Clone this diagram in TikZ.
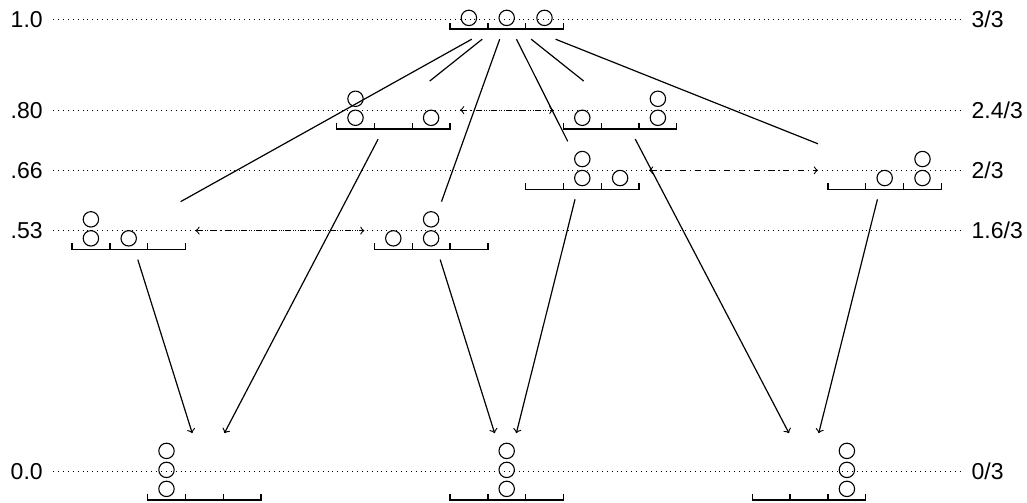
\documentclass[tikz,border=0pt]{standalone}
\usepackage{fontspec}
\setmainfont{Liberation Sans}

% one urn: name, position, balls in bin 1, 2, 3
\newcommand{\urn}[5]{%
  \pgfmathtruncatemacro{\urnrows}{max(#3,#4,#5)}%
  \pgfmathsetmacro{\urndrop}{-4.75*\urnrows}%
  \node[urn,minimum height=\urnrows*9.5pt] (#1) at (#2) {};
  \begin{scope}[shift={(#1.center)},yshift=\urndrop pt,x=18.9pt,y=9.5pt]
    \draw[bin] (-1.5,0.33) -- (-1.5,0) -- (1.5,0) -- (1.5,0.33)
      (-0.5,0) -- (-0.5,0.33) (0.5,0) -- (0.5,0.33);
    \foreach \col/\cnt in {-1/#3,0/#4,1/#5}
      \foreach \row in {1,2,3}
        {\ifnum\row>\cnt\relax\else\draw[ball] (\col,\row-0.405) circle (3.85pt);\fi}
  \end{scope}
}

\begin{document}
\begin{tikzpicture}
[x=18.9pt,y=226pt,%
  urn/.style={rectangle,inner sep=0pt,outer sep=5pt,minimum width=56.7pt},%
  bin/.style={line width=0.7pt},%
  ball/.style={line width=0.55pt},%
  edge/.style={line width=0.6pt},%
  level/.style={dotted,line width=0.45pt},%
  exch/.style={<->,dashdotted,line width=0.55pt},%
  value/.style={inner sep=5pt,font=\fontsize{11.5}{13}\selectfont}]
\useasboundingbox (-13.405,-0.0692) rectangle (13.765,1.0436);

% levels
\foreach \val/\lft/\rgt [count=\n] in {1/1.0/{3/3},.8/.80/{2.4/3},.6667/.66/{2/3},.5333/.53/{1.6/3},0/0.0/{0/3}}
{
  \node[value,anchor=east] (lv\n) at (-12,\val) {\lft};
  \node[value,anchor=west,inner xsep=5.5pt] (rv\n) at (12,\val) {\rgt};
  \draw[level] (lv\n) -- (rv\n);
}

% urns
\urn{top}{0,1}{1}{1}{1}
\urn{a}{-3,.8}{2}{0}{1}
\urn{b}{3,.8}{1}{0}{2}
\urn{c}{2,.6667}{0}{2}{1}
\urn{d}{10,.6667}{0}{1}{2}
\urn{e}{-10,.5333}{2}{1}{0}
\urn{f}{-2,.5333}{1}{2}{0}
\urn{g}{-8,0}{3}{0}{0}
\urn{h}{0,0}{0}{3}{0}
\urn{i}{8,0}{0}{0}{3}

% moves
\draw[edge] (top) -- (e) (top) -- (a) (top) -- (f)
  (top) -- (c) (top) -- (b) (top) -- (d);
\draw[edge,->] (e) -- (g);
\draw[edge,->] (a) -- (g);
\draw[edge,->] (f) -- (h);
\draw[edge,->] (c) -- (h);
\draw[edge,->] (b) -- (i);
\draw[edge,->] (d) -- (i);

% equal levels
\draw[exch] (a) -- (b);
\draw[exch] (c) -- (d);
\draw[exch] (e) -- (f);
\end{tikzpicture}
\end{document}
